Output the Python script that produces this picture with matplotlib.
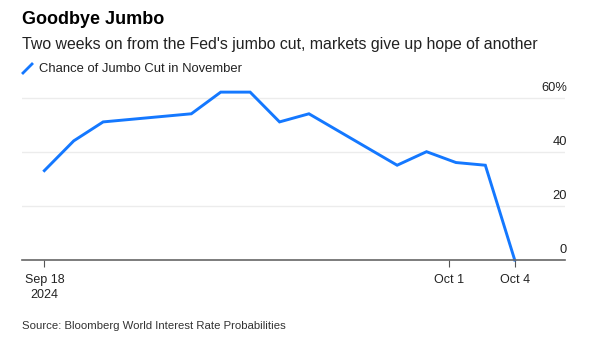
import pandas as pd
import matplotlib.pyplot as plt
from matplotlib.lines import Line2D

plt.rcParams['font.family'] = ['Liberation Sans', 'DejaVu Sans']

# dados
datas = ["2024-09-18", "2024-09-19", "2024-09-20", "2024-09-23", "2024-09-24",
         "2024-09-25", "2024-09-26", "2024-09-27", "2024-09-30", "2024-10-01",
         "2024-10-02", "2024-10-03", "2024-10-04"]
chance = [33, 44, 51, 54, 62, 62, 51, 54, 35, 40, 36, 35, 0]
yticks = [0, 20, 40, 60]
xtick_pos = ["2024-09-18 00:00", "2024-10-01 18:00", "2024-10-04 00:00"]
xtick_lab = ["Sep 18\n2024", "Oct 1", "Oct 4"]

x = pd.to_datetime(datas)
azul = "#1478ff"

fig = plt.figure(figsize=(5.9, 3.42), dpi=100)
ax = fig.add_axes([22/590, 1-260/342, (565-22)/590, (260-84)/342])

ax.plot(x, chance, color=azul, lw=2.1, solid_joinstyle="miter", clip_on=False)

ax.set_ylim(0, 65)
inicio = pd.Timestamp("2024-09-18")
ax.set_xlim(inicio - pd.Timedelta(days=0.76), inicio + pd.Timedelta(days=17.71))

for v in yticks[1:]:
    ax.axhline(v, color="#ececec", lw=1, zorder=0)
for v in yticks:
    txt = f"{v}%" if v == 60 else str(v)
    ax.text(1.004, v + 1.3, txt, transform=ax.get_yaxis_transform(),
            ha="right", va="bottom", fontsize=9.3, color="#222222")

ax.set_yticks([])
ax.set_xticks(pd.to_datetime(xtick_pos, format="%Y-%m-%d %H:%M"))
ax.set_xticklabels(xtick_lab, fontsize=9, color="#222222", linespacing=1.3)
ax.tick_params(axis="x", length=5, width=0.8, color="#555555", pad=5)
for s in ["top", "left", "right"]:
    ax.spines[s].set_visible(False)
ax.spines["bottom"].set_color("#666666")
ax.spines["bottom"].set_linewidth(1.2)

fig.text(22/590, 1-20/342, "Goodbye Jumbo", fontsize=13, fontweight="bold", va="center")
fig.text(22/590, 1-45/342, "Two weeks on from the Fed's jumbo cut, markets give up hope of another",
         fontsize=11.4, va="center", color="#222222")
fig.add_artist(Line2D([23/590, 32/590], [1-73/342, 1-64/342], color=azul, lw=2))
fig.text(39/590, 1-68.5/342, "Chance of Jumbo Cut in November", fontsize=9.4, va="center",
         color="#222222")
fig.text(22/590, 1-326/342, "Source: Bloomberg World Interest Rate Probabilities",
         fontsize=8.2, va="center", color="#333333")

plt.savefig("out.png", dpi=100)
